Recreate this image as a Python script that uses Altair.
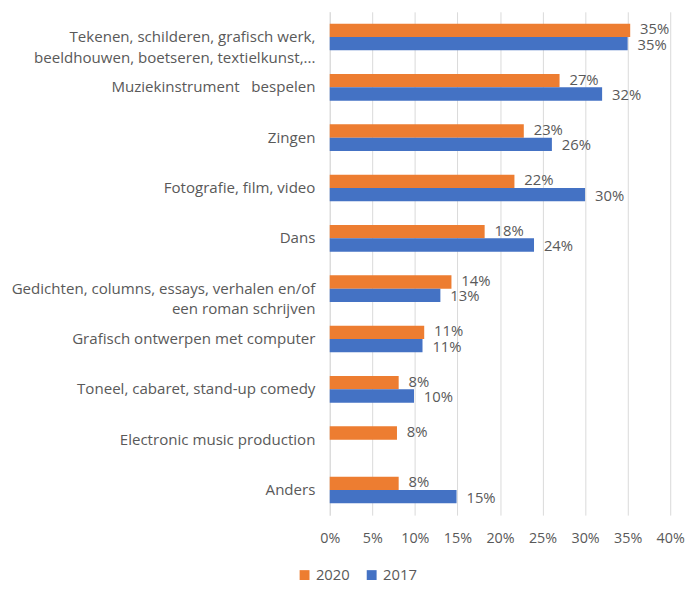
import altair as alt
import pandas as pd

categories = [
    "Tekenen, schilderen, grafisch werk,|beeldhouwen, boetseren, textielkunst,...",
    "Muziekinstrument\u00a0\u00a0\u00a0bespelen",
    "Zingen",
    "Fotografie, film, video",
    "Dans",
    "Gedichten, columns, essays, verhalen en/of|een roman schrijven",
    "Grafisch ontwerpen met computer",
    "Toneel, cabaret, stand-up comedy",
    "Electronic music production",
    "Anders",
]
v2020 = [35.3, 27.0, 22.8, 21.7, 18.2, 14.3, 11.1, 8.1, 7.9, 8.1]
v2017 = [35.0, 32.0, 26.1, 30.0, 24.0, 13.0, 10.9, 9.9, None, 14.9]
years = ["2020", "2017"]
colors = ["#ED7D31", "#4472C4"]
x_ticks = [0, 0.05, 0.10, 0.15, 0.20, 0.25, 0.30, 0.35, 0.40]

rows = []
for c, a, b in zip(categories, v2020, v2017):
    for y, v in zip(years, [a, b]):
        if v is not None:
            rows.append({"cat": c, "year": y, "value": v / 100.0,
                         "label": f"{round(v):d}%"})
df = pd.DataFrame(rows)

font = "Open Sans"
gray = "#595959"

y_enc = alt.Y("cat:N", sort=categories, title=None,
              scale=alt.Scale(paddingInner=0.47, paddingOuter=0.235),
              axis=alt.Axis(labelExpr="split(datum.label, '|')", labelFont=font,
                            labelFontSize=15.3, labelColor=gray, ticks=False,
                            domainColor="#D9D9D9", labelPadding=15, labelLimit=400,
                            labelLineHeight=21))
yoff = alt.YOffset("year:N", sort=years, scale=alt.Scale(domain=years, paddingInner=0, paddingOuter=0))

bars = alt.Chart(df).mark_bar().encode(
    x=alt.X("value:Q", title=None,
            scale=alt.Scale(domain=[0, 0.4], nice=False),
            axis=alt.Axis(values=x_ticks, format=".0%", grid=True, gridColor="#D9D9D9",
                          domain=False, ticks=False, labelFont=font, labelFontSize=14.5,
                          labelColor=gray, labelPadding=17, labelFlush=False,
                          labelOverlap=False)),
    y=y_enc,
    yOffset=yoff,
    color=alt.Color("year:N", sort=years,
                    scale=alt.Scale(domain=years, range=colors),
                    legend=alt.Legend(title=None, orient="none", direction="horizontal",
                                      legendX=-33, legendY=563, symbolType="square",
                                      symbolSize=100, labelFont=font, labelFontSize=15,
                                      labelColor=gray, columnPadding=14)),
)

def labels(year, dy):
    return alt.Chart(df).transform_filter(alt.datum.year == year).mark_text(
        align="left", baseline="middle", dx=10, dy=dy, font=font,
        fontSize=15, color=gray).encode(
        x="value:Q",
        y=alt.Y("cat:N", sort=categories),
        yOffset=yoff,
        text="label:N",
    )

chart = (bars + labels("2020", -1) + labels("2017", 1)).properties(
    width=345, height=510,
    autosize=alt.AutoSizeParams(type="none"),
    padding={"left": 326, "top": 0, "right": 16, "bottom": 72},
).configure_view(stroke=None)

chart.save("out.html", embed_options={"renderer": "svg", "actions": False})
